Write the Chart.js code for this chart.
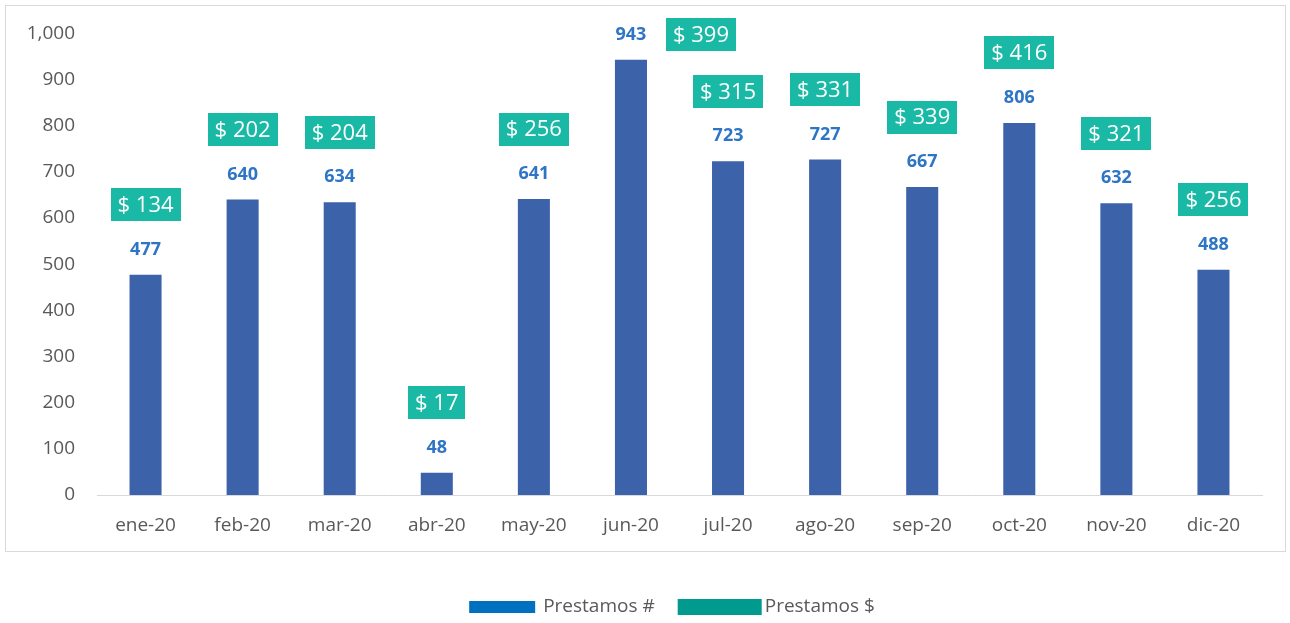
<!DOCTYPE html>
<html><head><meta charset="utf-8">
<script src="https://cdn.jsdelivr.net/npm/chart.js@4/dist/chart.umd.min.js"></script>
<style>html,body{margin:0;padding:0;background:#fff;}#wrap{width:1290px;height:623px;}</style>
</head><body>
<div id="wrap"><canvas id="c" width="1290" height="623"></canvas></div>
<script>
const categories = ['ene-20','feb-20','mar-20','abr-20','may-20','jun-20','jul-20','ago-20','sep-20','oct-20','nov-20','dic-20'];
const prestamosCount = [477,640,634,48,641,943,723,727,667,806,632,488];
const prestamosAmount = [134,202,204,17,256,399,315,331,339,416,321,256];
const seriesNames = ['Prestamos #','Prestamos $'];
const yMax = 1000;
const yStep = 100;

const FONT = "'Open Sans', 'DejaVu Sans', sans-serif";
const GRAY = '#595959';
const BAR = '#3C62AA';
const LABEL_BLUE = '#2E75C5';
const TEAL_BOX = '#19B9A6';
const LEGEND_BLUE = '#0070C0';
const LEGEND_TEAL = '#009A8E';

const frame = {
  id: 'frame',
  beforeDraw(chart) {
    const ctx = chart.ctx;
    ctx.save();
    ctx.fillStyle = '#fff';
    ctx.fillRect(0, 0, chart.width, chart.height);
    ctx.strokeStyle = '#D9D9D9';
    ctx.lineWidth = 1;
    ctx.strokeRect(5.5, 5.5, 1280, 546);
    ctx.restore();
  }
};

const labels = {
  id: 'labels',
  afterDatasetsDraw(chart) {
    const ctx = chart.ctx;
    const meta = chart.getDatasetMeta(0);
    ctx.save();
    meta.data.forEach((bar, i) => {
      const x = bar.x, top = bar.y;
      const labelY = top - 25;
      ctx.font = 'bold 18px ' + FONT;
      ctx.fillStyle = LABEL_BLUE;
      ctx.textAlign = 'center';
      ctx.textBaseline = 'middle';
      ctx.fillText(String(chart.data.datasets[0].data[i]), x, labelY);

      const txt = '$ ' + chart.data.datasets[1].data[i];
      ctx.font = '22px ' + FONT;
      const w = ctx.measureText(txt).width + 14;
      const h = 33;
      let cx = x, cy = top - 70;
      if (cy - h / 2 < 12) { cx = x + 70; cy = labelY; }
      ctx.fillStyle = TEAL_BOX;
      ctx.fillRect(Math.round(cx - w / 2), Math.round(cy - h / 2), Math.round(w), h);
      ctx.fillStyle = '#fff';
      ctx.fillText(txt, cx, cy + 1);
    });
    ctx.restore();
  }
};

const legend = {
  id: 'customLegend',
  afterDraw(chart) {
    const ctx = chart.ctx;
    ctx.save();
    ctx.font = '19px ' + FONT;
    const t1 = chart.data.datasets[0].label, t2 = chart.data.datasets[1].label;
    const w1 = ctx.measureText(t1).width, w2 = ctx.measureText(t2).width;
    const sw1 = 66, sw2 = 84;
    const total = sw1 + 8 + w1 + 23 + sw2 + 3 + w2;
    let x = 672 - total / 2;
    const cy = 607;
    ctx.fillStyle = LEGEND_BLUE;
    ctx.fillRect(x, cy - 6, sw1, 12);
    x += sw1 + 8;
    ctx.fillStyle = GRAY;
    ctx.textAlign = 'left';
    ctx.textBaseline = 'middle';
    ctx.fillText(t1, x, cy);
    x += w1 + 23;
    ctx.fillStyle = LEGEND_TEAL;
    ctx.fillRect(x, cy - 8, sw2, 16);
    x += sw2 + 3;
    ctx.fillStyle = GRAY;
    ctx.fillText(t2, x, cy);
    ctx.restore();
  }
};

new Chart(document.getElementById('c'), {
  data: {
    labels: categories,
    datasets: [
      { type: 'bar', label: seriesNames[0], data: prestamosCount, backgroundColor: BAR,
        categoryPercentage: 1, barPercentage: 0.33, yAxisID: 'y', order: 2 },
      { type: 'line', label: seriesNames[1], data: prestamosAmount, yAxisID: 'y2',
        showLine: false, pointRadius: 0, borderWidth: 0, order: 1 }
    ]
  },
  options: {
    responsive: false,
    animation: false,
    events: [],
    layout: { padding: { left: 0, right: 28, top: 31, bottom: 0 } },
    plugins: { legend: { display: false }, tooltip: { enabled: false } },
    scales: {
      x: {
        grid: { display: false, drawTicks: false },
        border: { color: '#D9D9D9', width: 1 },
        ticks: { color: GRAY, font: { family: FONT, size: 19 }, padding: 19, maxRotation: 0 },
        afterFit(s) { s.height = 128; }
      },
      y: {
        min: 0, max: yMax,
        grid: { display: false, drawTicks: false },
        border: { display: false },
        ticks: { stepSize: yStep, color: GRAY, font: { family: FONT, size: 19 }, padding: 22,
          callback: v => v.toLocaleString('en-US') },
        afterFit(s) { s.width = 97; }
      },
      y2: { display: false, min: 0, max: 500 }
    }
  },
  plugins: [frame, labels, legend]
});
</script>
</body></html>
